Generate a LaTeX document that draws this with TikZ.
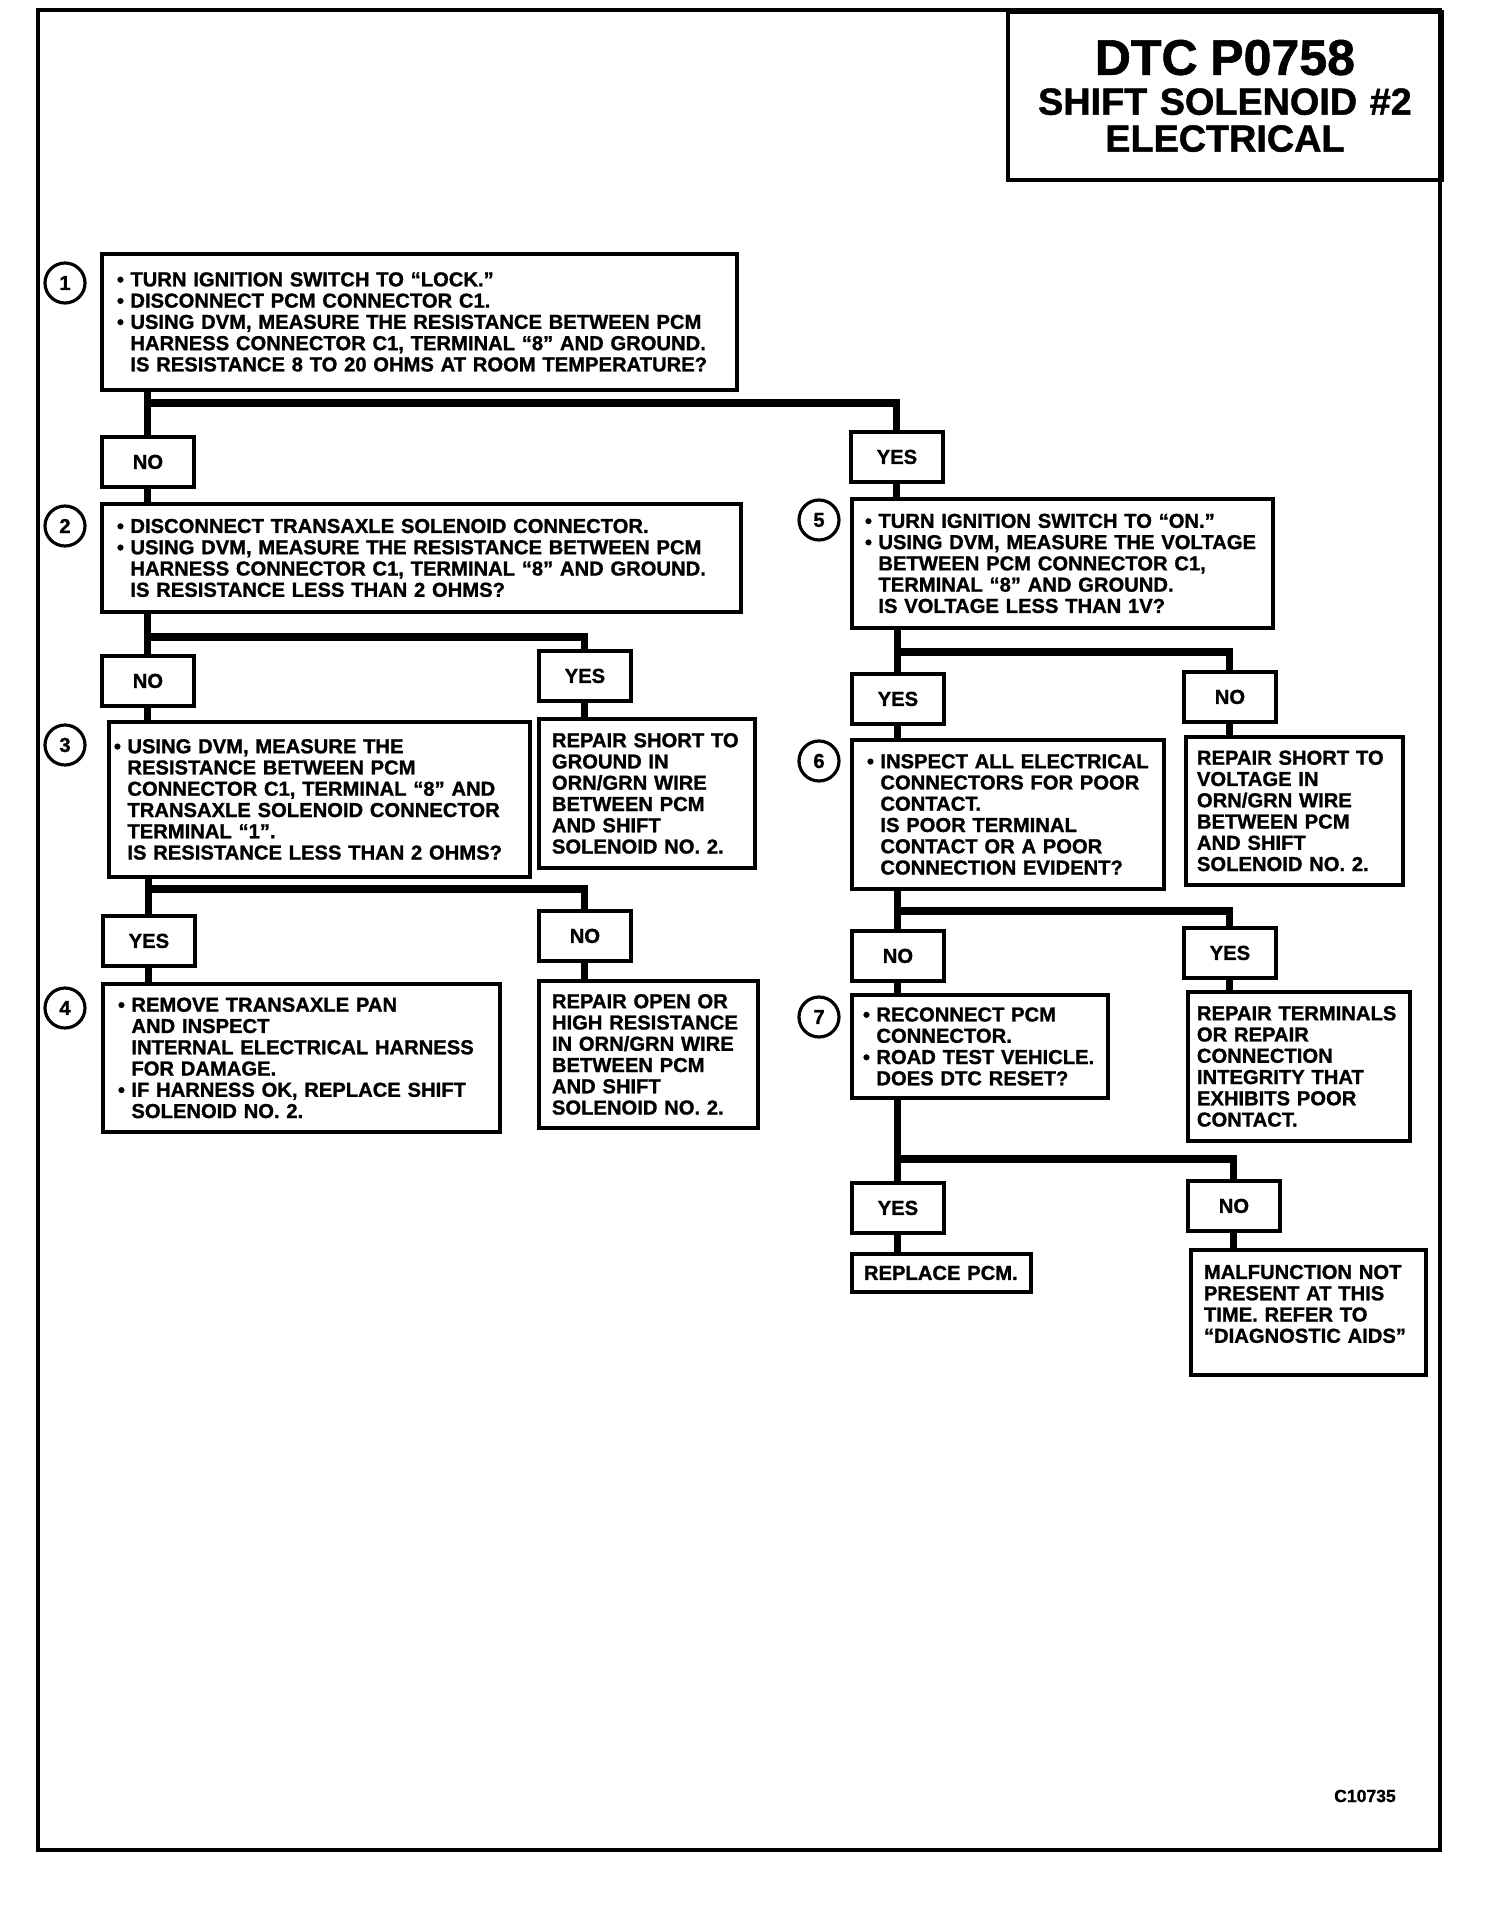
\documentclass[tikz,border=0pt]{standalone}
\usepackage{fontspec}
\setmainfont{Liberation Sans}[BoldFeatures={FakeBold=1.2}]
\usepackage{tikz}
\newcommand{\itm}{\makebox[0.27cm][l]{•}}
\newcommand{\cont}{\hspace*{0.27cm}}

\begin{document}
\begin{tikzpicture}[x=0.02cm,y=-0.02cm,
  stepbox/.style={draw,line width=2.2pt,anchor=north west,align=left,inner xsep=0.3cm,inner ysep=0pt,
    font=\fontsize{11.5}{12.1}\selectfont\bfseries},
  ansbox/.style={draw,line width=2.2pt,anchor=north west,minimum width=1.84cm,minimum height=1cm,inner sep=0pt,
    font=\fontsize{11.5}{12.1}\selectfont\bfseries},
  num/.style={circle,draw,line width=1.8pt,minimum size=0.8cm,inner sep=0pt,font=\fontsize{11.5}{12}\selectfont\bfseries},
  wire/.style={line width=4pt}]
\useasboundingbox (0,0) rectangle (1504,1932);
\draw[line width=2pt] (38,10) rectangle (1440,1850);
\node[draw,line width=2.2pt,anchor=north west,minimum width=8.68cm,minimum height=3.36cm,text width=8.2cm,align=center,
  inner sep=0pt,font=\fontsize{21.5}{21}\selectfont\bfseries] (title) at (1006,10)
  {{\fontsize{28.5}{30}\selectfont DTC P0758}\\[1.7pt]SHIFT SOLENOID \#2\\ELECTRICAL};

% step numbers
\node[num] (c1) at (65,283) {1};
\node[num] (c2) at (65,526) {2};
\node[num] (c3) at (65,745) {3};
\node[num] (c4) at (65,1008) {4};
\node[num] (c5) at (819,520) {5};
\node[num] (c6) at (819,761) {6};
\node[num] (c7) at (819,1017) {7};

% left column
\node[stepbox,text width=12.10cm,minimum height=2.72cm] (s1) at (100,252)
  {\itm TURN IGNITION SWITCH TO “LOCK.”\\ \itm DISCONNECT PCM CONNECTOR C1.\\
   \itm USING DVM, MEASURE THE RESISTANCE BETWEEN PCM\\ \cont HARNESS CONNECTOR C1, TERMINAL “8” AND GROUND.\\
   \cont IS RESISTANCE 8 TO 20 OHMS AT ROOM TEMPERATURE?};
\node[ansbox] (a1n) at (100,435) {NO};
\node[stepbox,text width=12.18cm,minimum height=2.16cm] (s2) at (100,502)
  {\itm DISCONNECT TRANSAXLE SOLENOID CONNECTOR.\\ \itm USING DVM, MEASURE THE RESISTANCE BETWEEN PCM\\
   \cont HARNESS CONNECTOR C1, TERMINAL “8” AND GROUND.\\ \cont IS RESISTANCE LESS THAN 2 OHMS?};
\node[ansbox] (a2n) at (100,654) {NO};
\node[ansbox] (a2y) at (537,649) {YES};
\node[stepbox,inner xsep=0.1cm,text width=8.22cm,minimum height=3.1cm] (s3) at (107,720)
  {\itm USING DVM, MEASURE THE\\ \cont RESISTANCE BETWEEN PCM\\ \cont CONNECTOR C1, TERMINAL “8” AND\\
   \cont TRANSAXLE SOLENOID CONNECTOR\\ \cont TERMINAL “1”.\\ \cont IS RESISTANCE LESS THAN 2 OHMS?};
\node[stepbox,inner xsep=0.26cm,text width=3.80cm,minimum height=2.98cm] (fixGnd) at (537,717)
  {REPAIR SHORT TO\\GROUND IN\\ORN/GRN WIRE\\BETWEEN PCM\\AND SHIFT\\SOLENOID NO. 2.};
\node[ansbox] (a3y) at (101,914) {YES};
\node[ansbox] (a3n) at (537,909) {NO};
\node[stepbox,text width=7.34cm,minimum height=2.96cm] (s4) at (101,982)
  {\itm REMOVE TRANSAXLE PAN\\ \cont AND INSPECT\\ \cont INTERNAL ELECTRICAL HARNESS\\ \cont FOR DAMAGE.\\
   \itm IF HARNESS OK, REPLACE SHIFT\\ \cont SOLENOID NO. 2.};
\node[stepbox,inner xsep=0.26cm,text width=3.86cm,minimum height=2.94cm] (fixOpen) at (537,979)
  {REPAIR OPEN OR\\HIGH RESISTANCE\\IN ORN/GRN WIRE\\BETWEEN PCM\\AND SHIFT\\SOLENOID NO. 2.};

% right column
\node[ansbox] (a1y) at (849,430) {YES};
\node[stepbox,inner xsep=0.26cm,text width=7.90cm,minimum height=2.58cm] (s5) at (850,497)
  {\itm TURN IGNITION SWITCH TO “ON.”\\ \itm USING DVM, MEASURE THE VOLTAGE\\ \cont BETWEEN PCM CONNECTOR C1,\\
   \cont TERMINAL “8” AND GROUND.\\ \cont IS VOLTAGE LESS THAN 1V?};
\node[ansbox] (a5y) at (850,672) {YES};
\node[ansbox] (a5n) at (1182,670) {NO};
\node[stepbox,text width=5.64cm,minimum height=2.98cm] (s6) at (850,738)
  {\itm INSPECT ALL ELECTRICAL\\ \cont CONNECTORS FOR POOR\\ \cont CONTACT.\\ \cont IS POOR TERMINAL\\
   \cont CONTACT OR A POOR\\ \cont CONNECTION EVIDENT?};
\node[stepbox,inner xsep=0.22cm,text width=3.90cm,minimum height=2.96cm] (fixVolt) at (1184,735)
  {REPAIR SHORT TO\\VOLTAGE IN\\ORN/GRN WIRE\\BETWEEN PCM\\AND SHIFT\\SOLENOID NO. 2.};
\node[ansbox] (a6n) at (850,929) {NO};
\node[ansbox] (a6y) at (1182,926) {YES};
\node[stepbox,inner xsep=0.22cm,text width=4.68cm,minimum height=2.06cm] (s7) at (850,993)
  {\itm RECONNECT PCM\\ \cont CONNECTOR.\\ \itm ROAD TEST VEHICLE.\\ \cont DOES DTC RESET?};
\node[stepbox,inner xsep=0.18cm,text width=4.08cm,minimum height=2.98cm] (fixTerm) at (1186,990)
  {REPAIR TERMINALS\\OR REPAIR\\CONNECTION\\INTEGRITY THAT\\EXHIBITS POOR\\CONTACT.};
\node[ansbox] (a7y) at (850,1181) {YES};
\node[ansbox] (a7n) at (1186,1179) {NO};
\node[stepbox,inner xsep=0.24cm,text width=3.10cm,minimum height=0.76cm] (fixPcm) at (850,1252) {REPLACE PCM.};
\node[stepbox,inner xsep=0.26cm,text width=4.18cm,minimum height=2.5cm,text depth=1.62cm] (noFault) at (1189,1248)
  {MALFUNCTION NOT\\PRESENT AT THIS\\TIME. REFER TO\\“DIAGNOSTIC AIDS”};

\node[font=\fontsize{10}{12}\selectfont\bfseries] (code) at (1365,1796) {C10735};

% connectors
\coordinate (j1) at (146,403);
\coordinate (j2) at (146,637);
\coordinate (j3) at (147,889);
\coordinate (j5) at (896,652);
\coordinate (j6) at (896,911);
\coordinate (j7) at (896,1159);
\draw[wire] (s1.south -| a1n) -- (a1n.north);
\draw[wire] (j1) -| (a1y.north);
\draw[wire] (a1n.south) -- (a1n.south |- s2.north);
\draw[wire] (a1y.south) -- (a1y.south |- s5.north);
\draw[wire] (s2.south -| a2n) -- (a2n.north);
\draw[wire] (j2) -| (a2y.north);
\draw[wire] (a2n.south) -- (a2n.south |- s3.north);
\draw[wire] (a2y.south) -- (a2y.south |- fixGnd.north);
\draw[wire] (s3.south -| a3y) -- (a3y.north);
\draw[wire] (j3) -| (a3n.north);
\draw[wire] (a3y.south) -- (a3y.south |- s4.north);
\draw[wire] (a3n.south) -- (a3n.south |- fixOpen.north);
\draw[wire] (s5.south -| a5y) -- (a5y.north);
\draw[wire] (j5) -| (a5n.north);
\draw[wire] (a5y.south) -- (a5y.south |- s6.north);
\draw[wire] (a5n.south) -- (a5n.south |- fixVolt.north);
\draw[wire] (s6.south -| a6n) -- (a6n.north);
\draw[wire] (j6) -| (a6y.north);
\draw[wire] (a6n.south) -- (a6n.south |- s7.north);
\draw[wire] (a6y.south) -- (a6y.south |- fixTerm.north);
\draw[wire] (s7.south -| a7y) -- (a7y.north);
\draw[wire] (j7) -| (a7n.north);
\draw[wire] (a7y.south) -- (a7y.south |- fixPcm.north);
\draw[wire] (a7n.south) -- (a7n.south |- noFault.north);
\end{tikzpicture}
\end{document}
